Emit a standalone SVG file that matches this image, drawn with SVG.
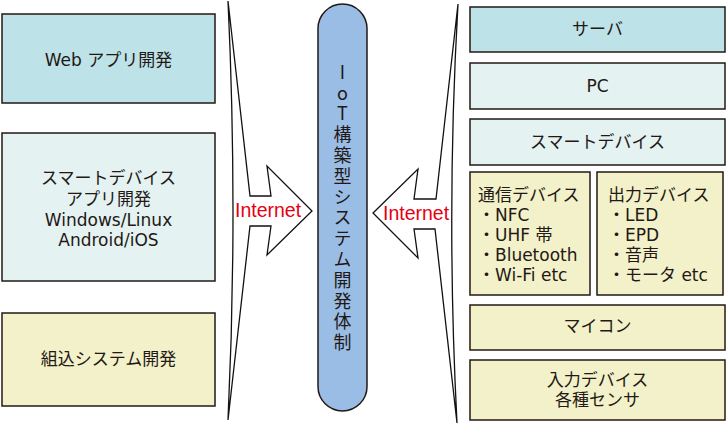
<svg xmlns="http://www.w3.org/2000/svg" width="726" height="424" viewBox="0 0 726 424">
<style>
  .box { stroke: #231815; stroke-width: 1.5; }
  .cyan { fill: #bde2e7; }
  .pale { fill: #e4f2f2; }
  .yel { fill: #f2f1c9; }
  .t { font-family: "DejaVu Sans", "Noto Sans CJK JP", sans-serif; font-size: 17px; fill: #231815; }
  .c { text-anchor: middle; }
  .arrow { fill: #ffffff; stroke: #111111; stroke-width: 1.3; stroke-linejoin: miter; }
  .net { font-family: "Liberation Sans", "Noto Sans CJK JP", sans-serif; font-size: 19.5px; fill: #e60012; }
  .vert { font-family: "Noto Sans CJK JP", sans-serif; font-size: 18px; fill: #231815; writing-mode: vertical-rl; text-orientation: upright; letter-spacing: 2.8px; }
</style>
<rect width="726" height="424" fill="#ffffff"/>

<g id="connectors">
  <path class="arrow" d="M228,1 Q238,212 228,420 L250,226 L271,226 L267,255 L312,211 L267,166 L271,196 L250,196 Z"/>
  <path class="arrow" d="M458,4 Q446,212 457,423 L435,229 L414,229 L418,258 L373,213 L418,169 L414,199 L436,199 Z"/>
  <text class="net" x="235" y="217">Internet</text>
  <text class="net" x="383" y="220">Internet</text>
</g>

<g id="web-app">
  <rect class="box cyan" x="2" y="14" width="213" height="89"/>
  <text class="t c" x="108.5" y="66">Web アプリ開発</text>
</g>

<g id="smart-app">
  <rect class="box pale" x="2" y="133" width="213" height="148"/>
  <text class="t c" x="108.5" y="184">スマートデバイス</text>
  <text class="t c" x="108.5" y="205">アプリ開発</text>
  <text class="t c" x="108.5" y="226">Windows/Linux</text>
  <text class="t c" x="108.5" y="246">Android/iOS</text>
</g>

<g id="embedded">
  <rect class="box yel" x="2" y="313" width="213" height="93"/>
  <text class="t c" x="108.5" y="365">組込システム開発</text>
</g>

<g id="iot">
  <rect class="box" x="318" y="4" width="49" height="407" rx="24.5" ry="24.5" fill="#99bde5"/>
  <text class="vert" x="342.5" y="63">IoT構築型システム開発体制</text>
</g>

<g id="server">
  <rect class="box cyan" x="470" y="7" width="255" height="45"/>
  <text class="t c" x="597.5" y="35">サーバ</text>
</g>

<g id="pc">
  <rect class="box pale" x="470" y="63" width="255" height="46"/>
  <text class="t c" x="597.5" y="92">PC</text>
</g>

<g id="smart-device">
  <rect class="box pale" x="470" y="119" width="255" height="46"/>
  <text class="t c" x="597.5" y="148">スマートデバイス</text>
</g>

<g id="comm-device">
  <rect class="box yel" x="470" y="172" width="120" height="123"/>
  <text class="t" x="478" y="201">通信デバイス</text>
  <text class="t" x="478" y="221">・NFC</text>
  <text class="t" x="478" y="241">・UHF 帯</text>
  <text class="t" x="478" y="261">・Bluetooth</text>
  <text class="t" x="478" y="281">・Wi-Fi etc</text>
</g>

<g id="output-device">
  <rect class="box yel" x="597" y="172" width="126" height="123"/>
  <text class="t" x="608" y="201">出力デバイス</text>
  <text class="t" x="608" y="221">・LED</text>
  <text class="t" x="608" y="241">・EPD</text>
  <text class="t" x="608" y="261">・音声</text>
  <text class="t" x="608" y="281">・モータ etc</text>
</g>

<g id="mcu">
  <rect class="box yel" x="470" y="305" width="255" height="45"/>
  <text class="t c" x="597.5" y="332">マイコン</text>
</g>

<g id="input-device">
  <rect class="box yel" x="470" y="360" width="255" height="60"/>
  <text class="t c" x="597.5" y="386">入力デバイス</text>
  <text class="t c" x="597.5" y="406">各種センサ</text>
</g>
</svg>
